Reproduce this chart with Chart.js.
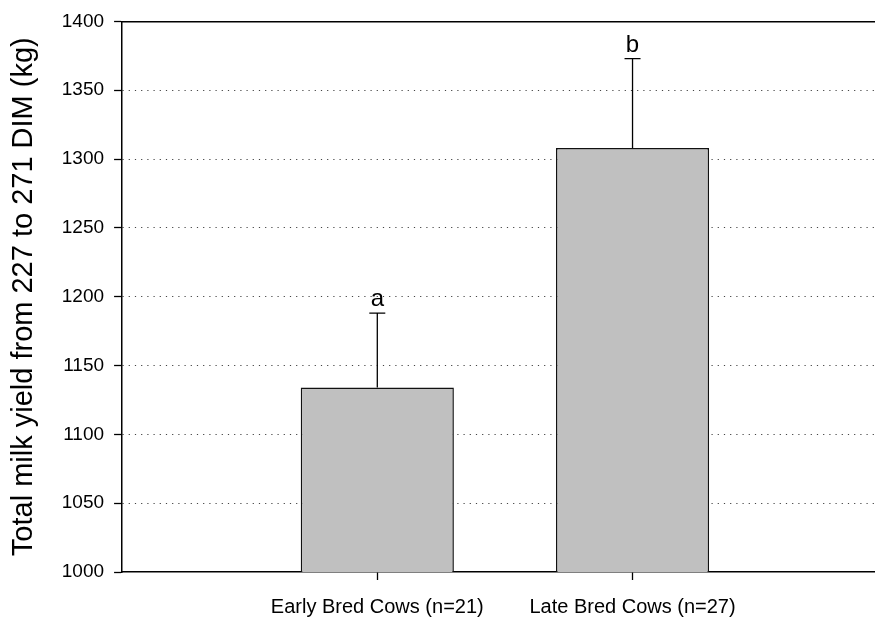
<!DOCTYPE html>
<html>
<head>
<meta charset="utf-8">
<script src="https://cdn.jsdelivr.net/npm/chart.js@4/dist/chart.umd.min.js"></script>
<style>
  html, body { margin: 0; padding: 0; background: #fff; }
  canvas { display: block; }
</style>
</head>
<body>
<canvas id="c" width="875" height="617"></canvas>
<script>
// ---- data ----
const categories = ["Early Bred Cows (n=21)", "Late Bred Cows (n=27)"];
const xPositions = [1, 2];
const meanMilk = [1134, 1308];
const seMilk = [54, 65];
const sigLetters = ["a", "b"];
const yTitle = "Total milk yield from 227 to 271 DIM (kg)";

const FONT = "'Liberation Sans', Arial, sans-serif";

const errorBarPlugin = {
  id: 'errorBars',
  afterDatasetsDraw(chart) {
    const ctx = chart.ctx;
    const xs = chart.scales.x, ys = chart.scales.y;
    ctx.save();
    ctx.strokeStyle = '#000';
    ctx.lineWidth = 1.3;
    meanMilk.forEach((m, i) => {
      const x = xs.getPixelForValue(xPositions[i]);
      const y0 = ys.getPixelForValue(m);
      const y1 = ys.getPixelForValue(m + seMilk[i]);
      ctx.beginPath();
      ctx.moveTo(x, y0);
      ctx.lineTo(x, y1);
      ctx.moveTo(x - 8, y1);
      ctx.lineTo(x + 8, y1);
      ctx.stroke();
      ctx.fillStyle = '#000';
      ctx.font = "24px " + FONT;
      ctx.textAlign = 'center';
      ctx.textBaseline = 'alphabetic';
      ctx.fillText(sigLetters[i], x, y1 - 7);
    });
    ctx.restore();
  }
};

new Chart(document.getElementById('c'), {
  type: 'bar',
  data: {
    datasets: [{
      data: xPositions.map((x, i) => ({ x: x, y: meanMilk[i] })),
      backgroundColor: '#c0c0c0',
      borderColor: '#111',
      borderWidth: 1.5,
      borderSkipped: false,
      barPercentage: 0.6,
      categoryPercentage: 1.0
    }]
  },
  options: {
    responsive: false,
    maintainAspectRatio: false,
    animation: false,
    devicePixelRatio: 1,
    layout: { padding: { left: 7, top: 19, right: 0, bottom: -17 } },
    plugins: { legend: { display: false }, tooltip: { enabled: false } },
    scales: {
      x: {
        type: 'linear',
        position: 'bottom',
        offset: false,
        min: 0,
        max: 2.95,
        afterBuildTicks: (scale) => { scale.ticks = xPositions.map(v => ({ value: v })); },
        ticks: {
          callback: (v) => { const k = xPositions.indexOf(v); return k >= 0 ? categories[k] : ''; },
          color: '#000',
          font: { family: FONT, size: 20 },
          padding: 15,
          maxRotation: 0,
          autoSkip: false
        },
        grid: {
          display: true,
          offset: false,
          drawOnChartArea: false,
          drawTicks: true,
          tickLength: 8,
          tickColor: '#000',
          tickWidth: 1.3
        },
        border: { display: true, color: '#000', width: 1.5 }
      },
      x2: {
        type: 'linear',
        position: 'top',
        offset: false,
        min: 0, max: 1,
        ticks: { display: false },
        grid: { display: false, drawTicks: false },
        border: { display: true, color: '#000', width: 1.5 }
      },
      y: {
        min: 1000,
        max: 1400,
        ticks: {
          stepSize: 50,
          callback: (v) => String(v),
          color: '#000',
          font: { family: FONT, size: 19 },
          padding: 10
        },
        title: {
          display: true,
          text: yTitle,
          color: '#000',
          font: { family: FONT, size: 29 },
          padding: { top: 0, bottom: 10 }
        },
        grid: {
          color: (c) => (c.tick && (c.tick.value === 1000 || c.tick.value === 1400)) ? 'rgba(0,0,0,0)' : '#444',
          lineWidth: 1,
          drawTicks: true,
          tickLength: 8,
          tickColor: '#000',
          tickWidth: 1.3,
          tickBorderDash: []
        },
        border: { display: true, color: '#000', width: 1.5, dash: [1.2, 5] }
      }
    }
  },
  plugins: [errorBarPlugin]
});
</script>
</body>
</html>
